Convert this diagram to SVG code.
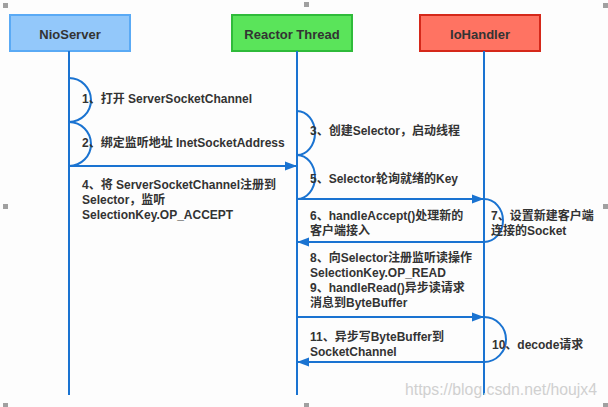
<svg xmlns="http://www.w3.org/2000/svg" width="608" height="407" viewBox="0 0 608 407">
<defs>
<marker id="ah" markerWidth="12" markerHeight="10" refX="12" refY="5" orient="auto" markerUnits="userSpaceOnUse">
<path d="M0,0.5 L12,5 L0,9.5 Z" fill="#1a73d1"/>
</marker>
<style>
.box{stroke-width:2}
.title{font-family:"Liberation Sans","Noto Sans CJK SC",sans-serif;font-weight:bold;font-size:13px;fill:#333;text-anchor:middle}
.life{stroke:#1a73d1;stroke-width:2;fill:none}
.arc{stroke:#1a73d1;stroke-width:2;fill:none}
.msg{stroke:#1a73d1;stroke-width:2;fill:none;marker-end:url(#ah)}
.lbl{font-family:"Liberation Sans","Noto Sans CJK SC",sans-serif;font-weight:bold;font-size:12px;fill:#333}
.wm{font-family:"Liberation Sans","Noto Sans",sans-serif;font-size:16px;fill:#d0d0d0}
.hd{fill:#a0a0a0}
</style>
</defs>
<rect width="608" height="407" fill="#fdfdfd"/>
<g id="handles">
<rect class="hd" x="3" y="3" width="5" height="5"/>
<rect class="hd" x="304" y="2" width="5" height="5"/>
<rect class="hd" x="603" y="3" width="5" height="5"/>
<rect class="hd" x="3" y="204" width="5" height="5"/>
<rect class="hd" x="603" y="204" width="5" height="5"/>
<rect class="hd" x="3" y="403" width="5" height="4"/>
<rect class="hd" x="304" y="403" width="5" height="4"/>
<rect class="hd" x="603" y="403" width="5" height="4"/>
</g>
<g id="NioServer">
<rect class="box" x="10" y="15" width="120" height="36" fill="#93c8fa" stroke="#5aaaf5"/>
<text class="title" x="70" y="39">NioServer</text>
<line class="life" x1="69" y1="51" x2="69" y2="395"/>
</g>
<g id="ReactorThread">
<rect class="box" x="232" y="15" width="120" height="36" fill="#5ae45a" stroke="#2fbb3a"/>
<text class="title" x="292" y="39">Reactor Thread</text>
<line class="life" x1="297" y1="51" x2="297" y2="395"/>
</g>
<g id="IoHandler">
<rect class="box" x="420" y="15" width="120" height="36" fill="#ff7362" stroke="#d5281a"/>
<text class="title" x="480" y="39">IoHandler</text>
<line class="life" x1="484" y1="51" x2="484" y2="395"/>
</g>
<g id="connectors">
<path class="arc" d="M69,78 A22,22 0 0 1 69,122"/>
<path class="arc" d="M69,122 A22,22 0 0 1 69,166"/>
<path class="msg" d="M69,166 L297,166"/>
<path class="arc" d="M297,111 A18,22 0 0 1 297,155"/>
<path class="arc" d="M297,155 A18,22 0 0 1 297,199"/>
<path class="msg" d="M297,199 L484,199"/>
<path class="arc" d="M484,199 A19,21.5 0 0 1 484,242"/>
<path class="msg" d="M484,242 L297,242"/>
<path class="msg" d="M297,317 L484,317"/>
<path class="arc" d="M484,317 A22,22.5 0 0 1 484,362"/>
<path class="msg" d="M484,362 L297,362"/>
</g>
<g id="labels">
<text class="lbl" x="82" y="103">1、打开 ServerSocketChannel</text>
<text class="lbl" x="82" y="147">2、绑定监听地址 InetSocketAddress</text>
<text class="lbl" x="82" y="189">4、将 ServerSocketChannel注册到</text>
<text class="lbl" x="82" y="204">Selector，监听</text>
<text class="lbl" x="82" y="219">SelectionKey.OP_ACCEPT</text>
<text class="lbl" x="310" y="135">3、创建Selector，启动线程</text>
<text class="lbl" x="310" y="183">5、Selector轮询就绪的Key</text>
<text class="lbl" x="310" y="220">6、handleAccept()处理新的</text>
<text class="lbl" x="310" y="235">客户端接入</text>
<text class="lbl" x="491" y="220">7、设置新建客户端</text>
<text class="lbl" x="491" y="235">连接的Socket</text>
<text class="lbl" x="310" y="262">8、向Selector注册监听读操作</text>
<text class="lbl" x="310" y="277">SelectionKey.OP_READ</text>
<text class="lbl" x="310" y="292">9、handleRead()异步读请求</text>
<text class="lbl" x="310" y="307">消息到ByteBuffer</text>
<text class="lbl" x="310" y="341">11、异步写ByteBuffer到</text>
<text class="lbl" x="310" y="356">SocketChannel</text>
<text class="lbl" x="492" y="349">10、decode请求</text>
<text class="wm" x="405" y="395" textLength="192" lengthAdjust="spacingAndGlyphs">https://blog.csdn.net/houjx4</text>
</g>
</svg>
